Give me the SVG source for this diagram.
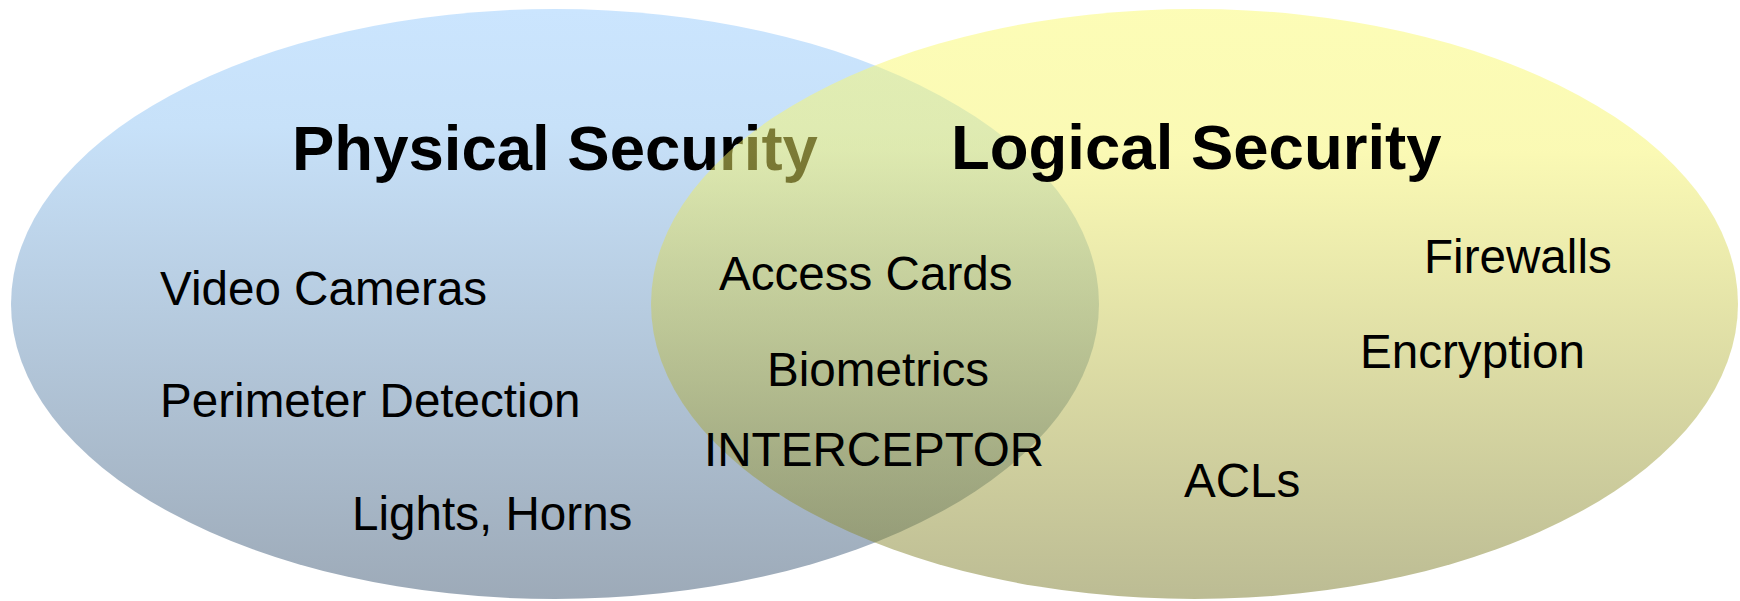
<svg xmlns="http://www.w3.org/2000/svg" width="1740" height="601" viewBox="0 0 1740 601">
<defs>
<linearGradient id="gBlue" gradientUnits="userSpaceOnUse" x1="0" y1="9" x2="0" y2="599">
<stop offset="0" stop-color="#CBE5FE"/>
<stop offset="0.2" stop-color="#C7E1F9"/>
<stop offset="1" stop-color="#9DAAB8"/>
</linearGradient>
<linearGradient id="gYellow" gradientUnits="userSpaceOnUse" x1="0" y1="9" x2="0" y2="599">
<stop offset="0" stop-color="#FAFA6E"/>
<stop offset="0.24" stop-color="#F6F46A"/>
<stop offset="1" stop-color="#797929"/>
</linearGradient>
</defs>
<style>
.title{font-family:"Liberation Sans",Arial,sans-serif;font-weight:bold;font-size:63.5px;fill:#000}
.item{font-family:"Liberation Sans",Arial,sans-serif;font-size:47.6px;fill:#000}
</style>
<g id="physical">
<ellipse cx="555" cy="304" rx="544" ry="295" fill="url(#gBlue)"/>
<text class="title" x="292" y="170">Physical Security</text>
</g>
<g id="logical">
<ellipse cx="1194.5" cy="304" rx="543.5" ry="295" fill="url(#gYellow)" fill-opacity="0.5"/>
<text class="title" x="951" y="169">Logical Security</text>
</g>
<g id="connectors"/>
<g id="physical-items">
<text id="video-cameras" class="item" x="160" y="305">Video Cameras</text>
<text id="perimeter-detection" class="item" x="160" y="417">Perimeter Detection</text>
<text id="lights-horns" class="item" x="352" y="530">Lights, Horns</text>
</g>
<g id="shared-items">
<text id="access-cards" class="item" x="719" y="290">Access Cards</text>
<text id="biometrics" class="item" x="767" y="386">Biometrics</text>
<text id="interceptor" class="item" x="704" y="466">INTERCEPTOR</text>
</g>
<g id="logical-items">
<text id="firewalls" class="item" x="1424" y="273">Firewalls</text>
<text id="encryption" class="item" x="1360" y="368">Encryption</text>
<text id="acls" class="item" x="1184" y="497">ACLs</text>
</g>
</svg>
